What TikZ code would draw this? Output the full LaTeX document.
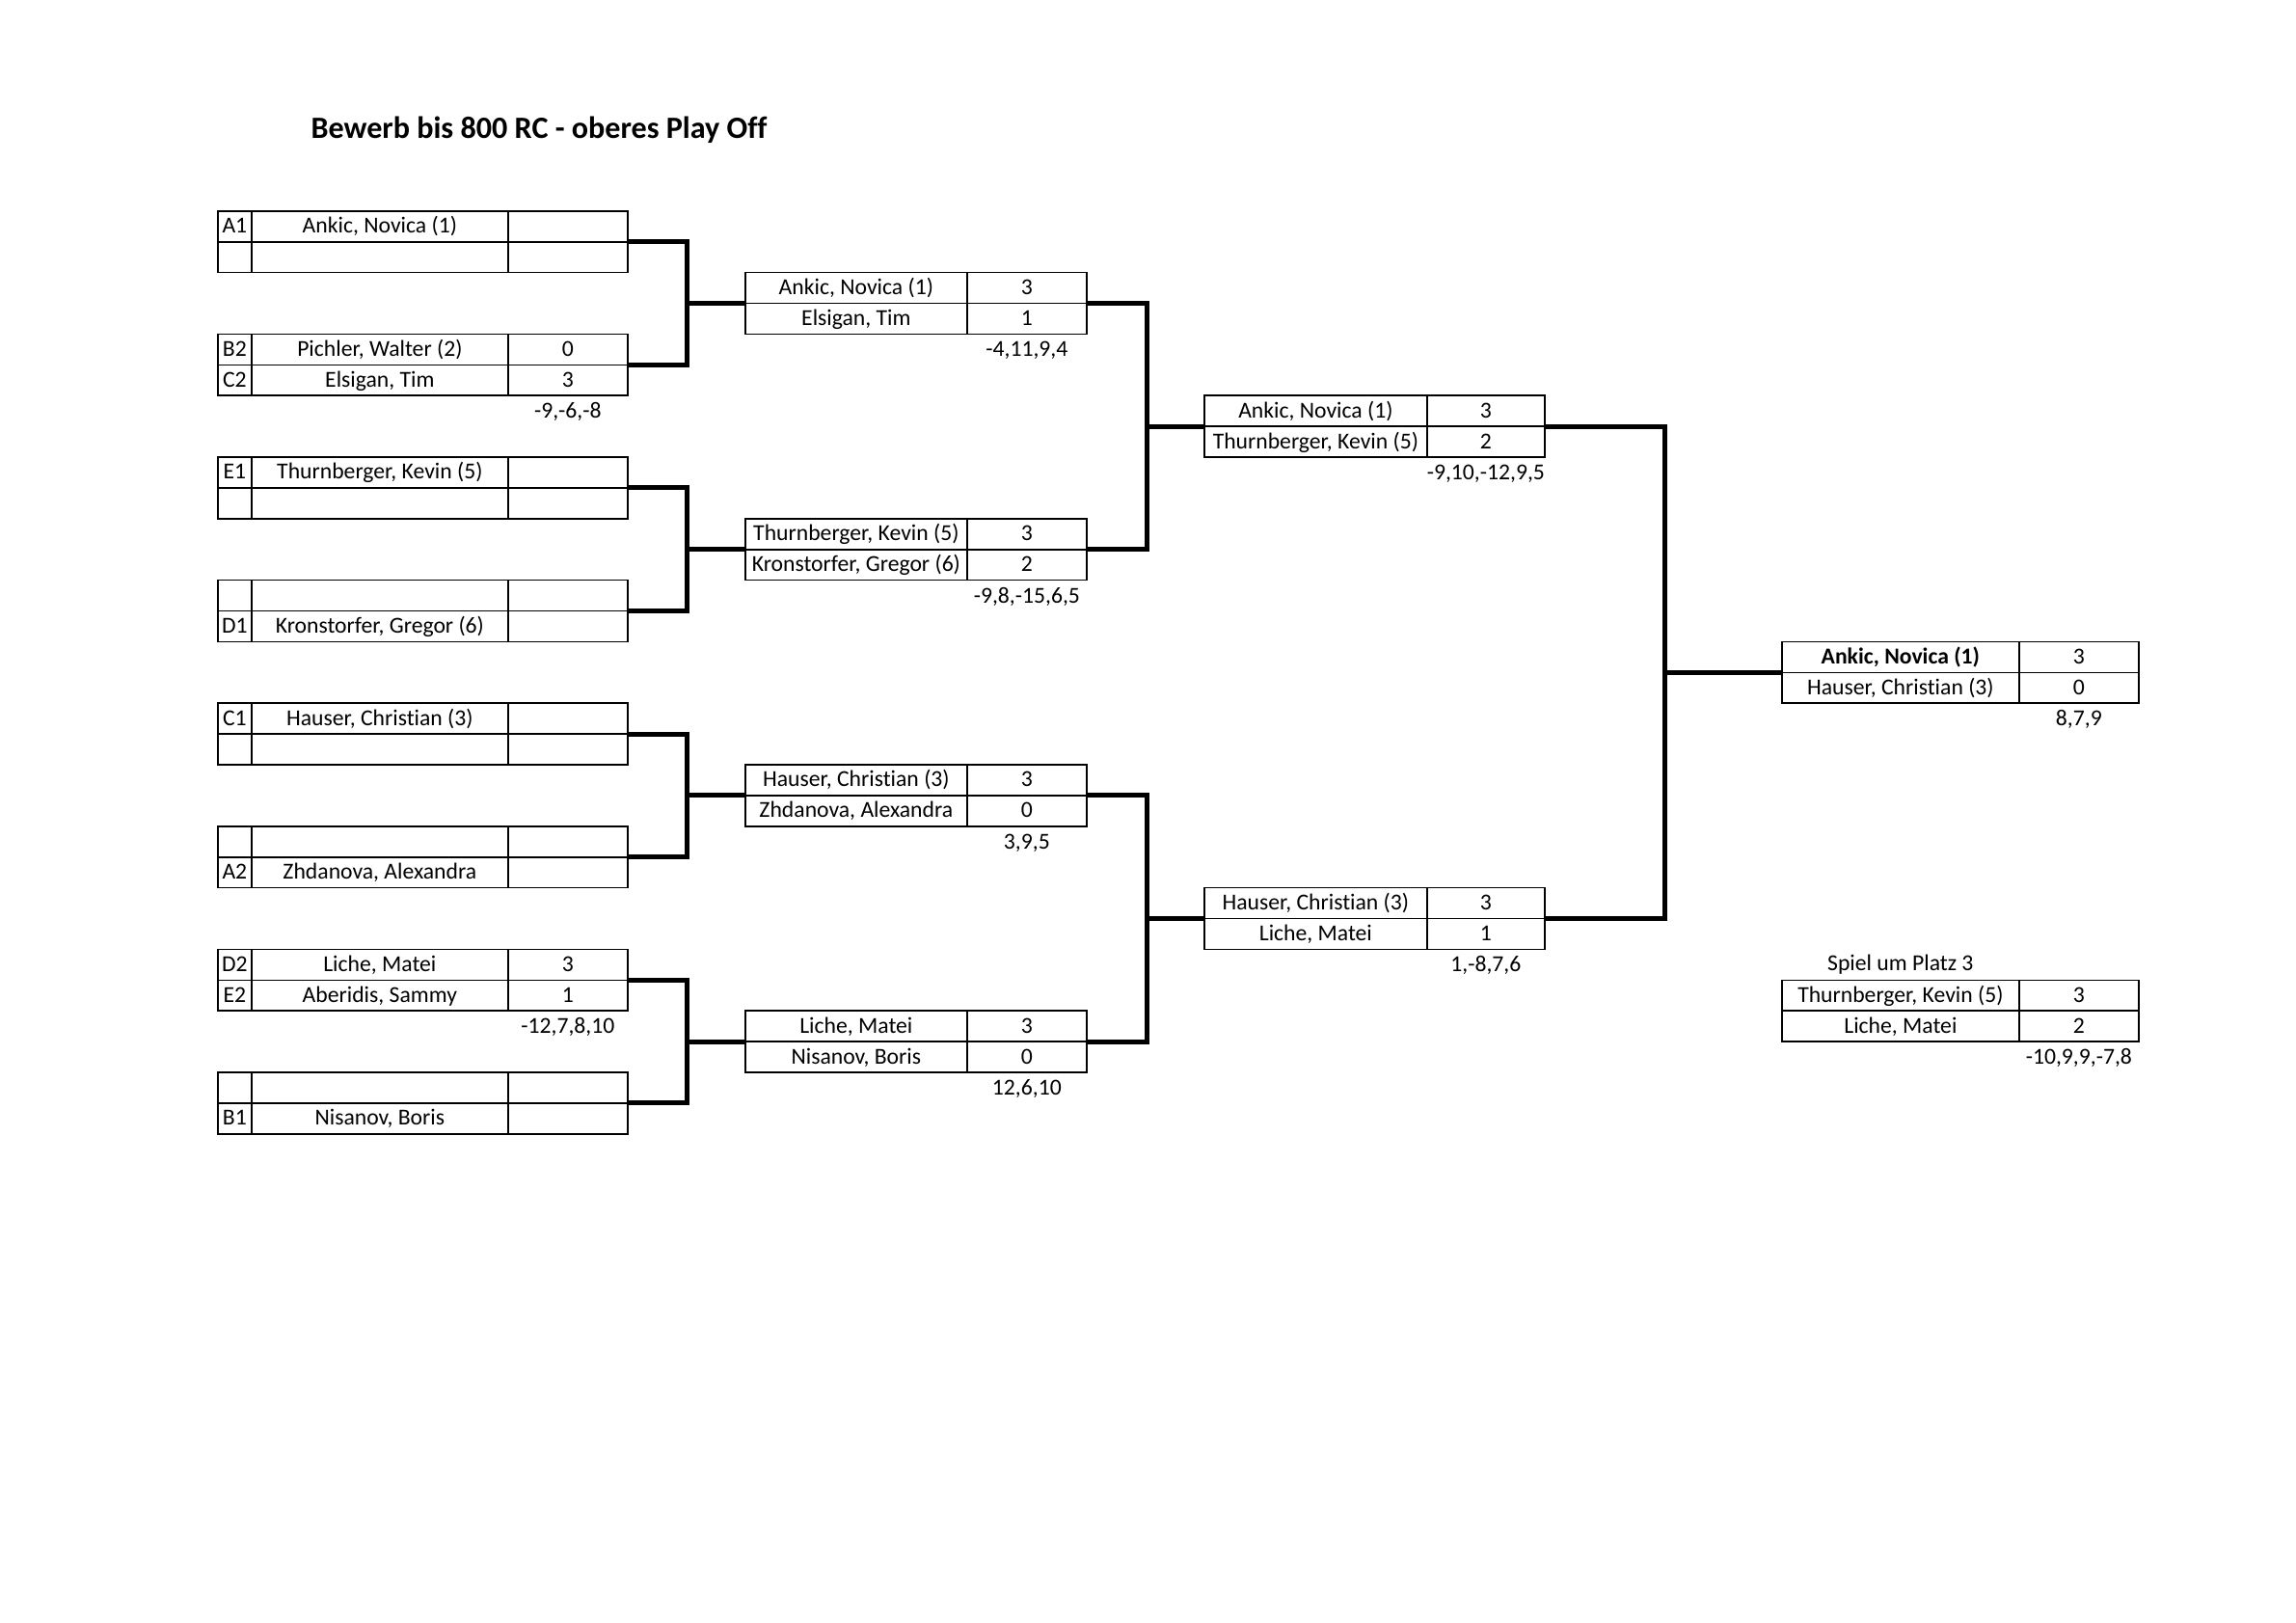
\documentclass[tikz,border=0pt]{standalone}
\usepackage{fontspec}
\setmainfont{Carlito}[Ligatures=CommonOff]
\usetikzlibrary{matrix,positioning}
\newdimen\pxu
\pxu=0.12474mm
\tikzset{
cell/.style={draw,inner sep=0pt,minimum height=31.9\pxu,text height=20\pxu,text depth=6\pxu},
note/.style={inner sep=0pt,minimum height=31.9\pxu,text height=20\pxu,text depth=6\pxu},
sheet/.style={
  matrix of nodes,
  anchor=north west,
  inner sep=0pt,
  outer sep=0pt,
  line width=0.6pt,
  row sep=-\pgflinewidth,
  column sep=-\pgflinewidth,
  nodes={cell},
  nodes in empty cells
},
seeded/.style={sheet,
  column 1/.style={nodes={minimum width=35\pxu}},
  column 2/.style={nodes={minimum width=266\pxu}},
  column 3/.style={nodes={minimum width=124\pxu}}},
match/.style 2 args={sheet,
  column 1/.style={nodes={minimum width=#1\pxu}},
  column 2/.style={nodes={minimum width=#2\pxu}}},
link/.style={line width=1.8pt},
}

\begin{document}
\begin{tikzpicture}[x=\pxu,y=-31.9\pxu,font=\fontsize{8.4}{10}\selectfont]
\useasboundingbox (0,-6.834) rectangle (2381,45.925);
\node[anchor=base west,inner sep=0pt,font=\fontsize{11.4}{13}\selectfont\bfseries] (title) at (322,-2.32) {Bewerb bis 800 RC - oberes Play Off};
% first round
\matrix (r1a) [seeded] at (225,0) {
A1 & Ankic, Novica (1) & \\
 & & \\
};
\matrix (r1b) [seeded] at (225,4) {
B2 & Pichler, Walter (2) & 0 \\
C2 & Elsigan, Tim & 3 \\
};
\matrix (r1c) [seeded] at (225,8) {
E1 & Thurnberger, Kevin (5) & \\
 & & \\
};
\matrix (r1d) [seeded] at (225,12) {
 & & \\
D1 & Kronstorfer, Gregor (6) & \\
};
\matrix (r1e) [seeded] at (225,16) {
C1 & Hauser, Christian (3) & \\
 & & \\
};
\matrix (r1f) [seeded] at (225,20) {
 & & \\
A2 & Zhdanova, Alexandra & \\
};
\matrix (r1g) [seeded] at (225,24) {
D2 & Liche, Matei & 3 \\
E2 & Aberidis, Sammy & 1 \\
};
\matrix (r1h) [seeded] at (225,28) {
 & & \\
B1 & Nisanov, Boris & \\
};
% second round
\matrix (r2a) [match={230}{124}] at (772,2) {
Ankic, Novica (1) & 3 \\
Elsigan, Tim & 1 \\
};
\matrix (r2b) [match={230}{124}] at (772,10) {
Thurnberger, Kevin (5) & 3 \\
Kronstorfer, Gregor (6) & 2 \\
};
\matrix (r2c) [match={230}{124}] at (772,18) {
Hauser, Christian (3) & 3 \\
Zhdanova, Alexandra & 0 \\
};
\matrix (r2d) [match={230}{124}] at (772,26) {
Liche, Matei & 3 \\
Nisanov, Boris & 0 \\
};
% semi finals
\matrix (r3a) [match={231}{122}] at (1248,6) {
Ankic, Novica (1) & 3 \\
Thurnberger, Kevin (5) & 2 \\
};
\matrix (r3b) [match={231}{122}] at (1248,22) {
Hauser, Christian (3) & 3 \\
Liche, Matei & 1 \\
};
% final and third place
\matrix (fin) [match={246}{124}] at (1847,14) {
\textbf{Ankic, Novica (1)} & 3 \\
Hauser, Christian (3) & 0 \\
};
\matrix (pl3) [match={246}{124}] at (1847,25) {
Thurnberger, Kevin (5) & 3 \\
Liche, Matei & 2 \\
};
\node[note,above=0pt of pl3-1-1] (pl3t) {Spiel um Platz 3};
% the set scores
\node[note,below=0pt of r1b-2-3] (s1b) {-9,-6,-8};
\node[note,below=0pt of r1g-2-3] (s1g) {-12,7,8,10};
\node[note,below=0pt of r2a-2-2] (s2a) {-4,11,9,4};
\node[note,below=0pt of r2b-2-2] (s2b) {-9,8,-15,6,5};
\node[note,below=0pt of r2c-2-2] (s2c) {3,9,5};
\node[note,below=0pt of r2d-2-2] (s2d) {12,6,10};
\node[note,below=0pt of r3a-2-2] (s3a) {-9,10,-12,9,5};
\node[note,below=0pt of r3b-2-2] (s3b) {1,-8,7,6};
\node[note,below=0pt of fin-2-2] (sfin) {8,7,9};
\node[note,below=0pt of pl3-2-2] (spl3) {-10,9,9,-7,8};
% the brackets
\foreach \up/\dn/\nx/\len in {r1a/r1b/r2a/61,r1c/r1d/r2b/61,r1e/r1f/r2c/61,r1g/r1h/r2d/61,r2a/r2b/r3a/62,r2c/r2d/r3b/62,r3a/r3b/fin/124}
{
  \draw[link] (\up.east) -- ++(\len,0) coordinate (j) |- (\dn.east);
  \draw[link] (j |- \nx.west) -- (\nx.west);
}
\end{tikzpicture}
\end{document}
